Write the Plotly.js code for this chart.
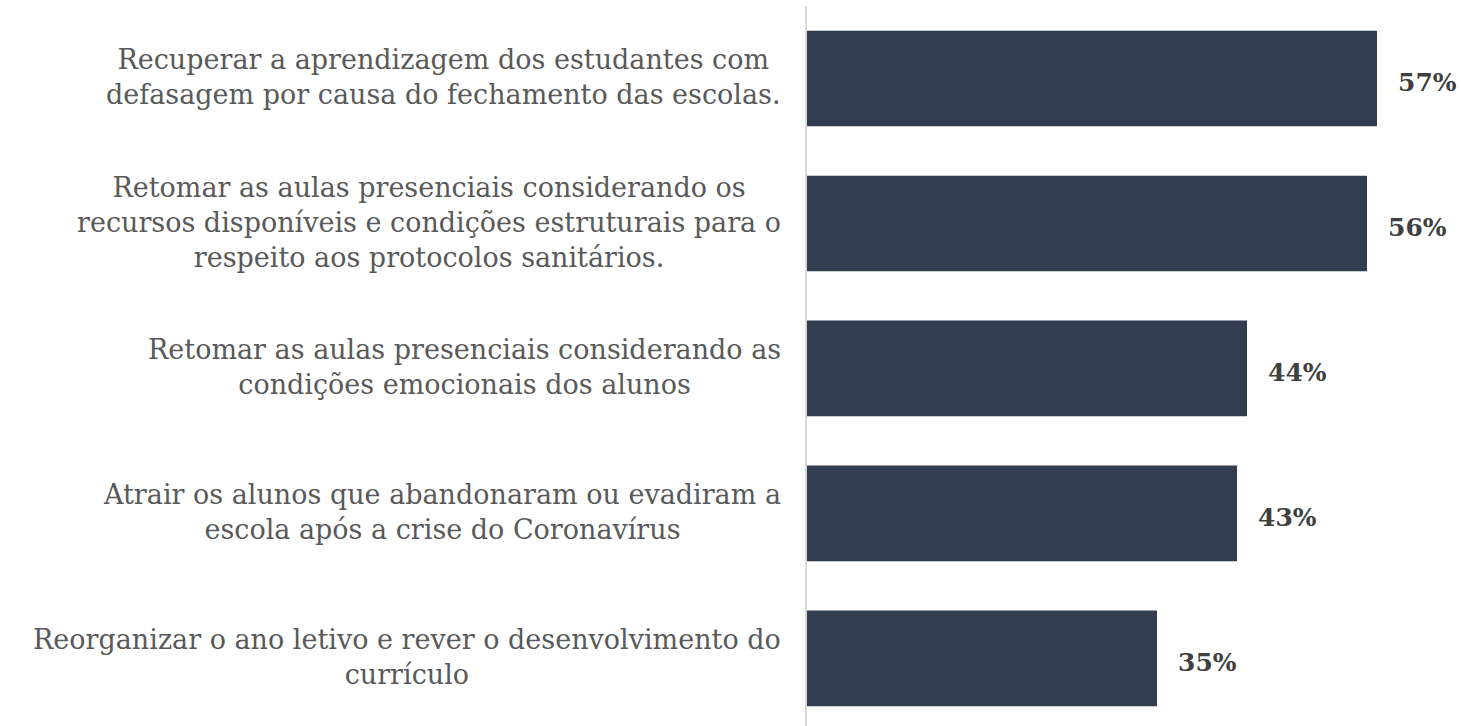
<!DOCTYPE html>
<html>
<head>
<meta charset="utf-8">
<script src="https://cdn.plot.ly/plotly-3.0.1.min.js"></script>
<style>html,body{margin:0;padding:0;background:#fff;}#chart{width:1461px;height:726px;}</style>
</head>
<body>
<div id="chart"></div>
<script>
const categories = [
  "Recuperar a aprendizagem dos estudantes com<br>defasagem por causa do fechamento das escolas.",
  "Retomar as aulas presenciais considerando os<br>recursos disponíveis e condições estruturais para o<br>respeito aos protocolos sanitários.",
  "Retomar as aulas presenciais considerando as<br>condições emocionais dos alunos",
  "Atrair os alunos que abandonaram ou evadiram a<br>escola após a crise do Coronavírus",
  "Reorganizar o ano letivo e rever o desenvolvimento do<br>currículo"
];
const values = [57, 56, 44, 43, 35];
const valueLabels = ["57%", "56%", "44%", "43%", "35%"];

const ids = categories.map((c, i) => "c" + i);
const labelFont = {family: "DejaVu Serif, Georgia, serif", size: 27, color: "#595959"};
const valFont = {family: "DejaVu Serif, Georgia, serif", size: 25, color: "#404040", weight: "bold"};

const annotations = [];
categories.forEach((c, i) => {
  annotations.push({
    xref: "paper", yref: "y", x: 0, y: ids[i], text: c,
    xanchor: "right", yanchor: "middle", align: "center", xshift: -24, yshift: 1,
    showarrow: false, font: labelFont
  });
  annotations.push({
    xref: "x", yref: "y", x: values[i], y: ids[i], text: "<b>" + valueLabels[i] + "</b>",
    xanchor: "left", yanchor: "middle", xshift: 19, yshift: -4,
    showarrow: false, font: valFont
  });
});

Plotly.newPlot("chart", [{
  type: "bar", orientation: "h", x: values, y: ids,
  marker: {color: "#333d50"}, hoverinfo: "none"
}], {
  width: 1461, height: 726,
  margin: {l: 807, r: 0, t: 6, b: 0},
  paper_bgcolor: "#fff", plot_bgcolor: "#fff",
  bargap: 0.34,
  showlegend: false,
  xaxis: {range: [0, 65.4], visible: false, fixedrange: true},
  yaxis: {type: "category", range: [4.466, -0.5], showticklabels: false, showgrid: false,
          zeroline: false, showline: true, linecolor: "#d9d9d9", linewidth: 2, ticks: ""},
  annotations: annotations
}, {displayModeBar: false, staticPlot: true});
</script>
</body>
</html>
